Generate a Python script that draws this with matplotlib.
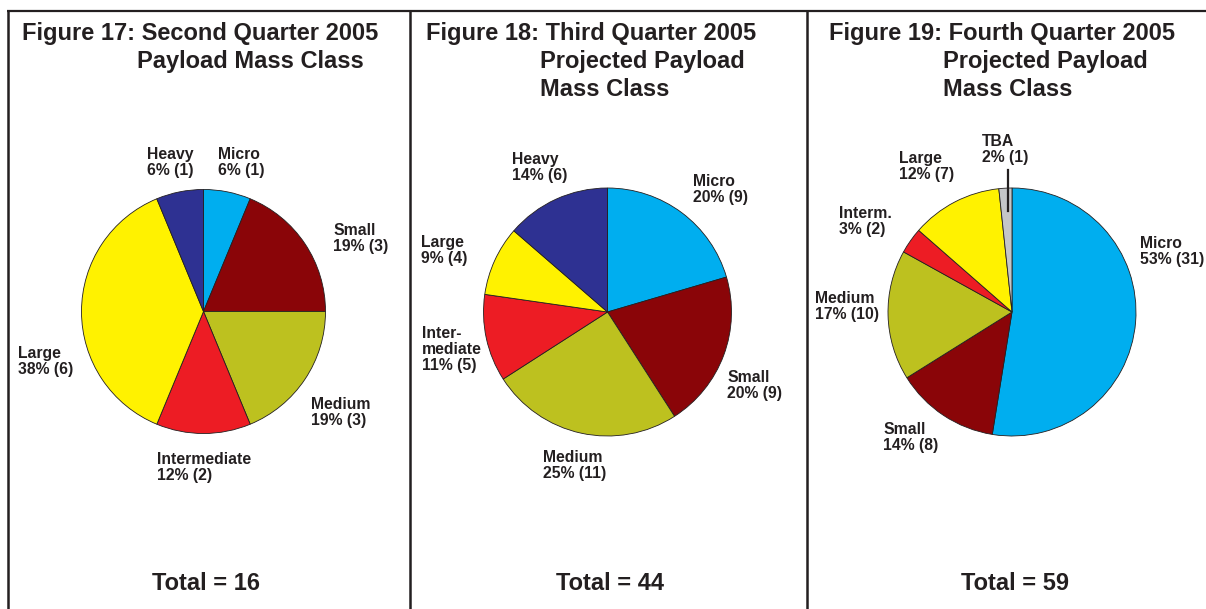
import matplotlib.pyplot as plt

plt.rcParams['font.family'] = ['Liberation Sans', 'DejaVu Sans']

W, H = 1206, 609

# data (clockwise from 12 o'clock)
classes_q2 = ['Micro', 'Small', 'Medium', 'Intermediate', 'Large', 'Heavy']
counts_q2 = [1, 3, 3, 2, 6, 1]

classes_q3 = ['Micro', 'Small', 'Medium', 'Inter-\nmediate', 'Large', 'Heavy']
counts_q3 = [9, 9, 11, 5, 4, 6]

classes_q4 = ['Micro', 'Small', 'Medium', 'Interm.', 'Large', 'TBA']
counts_q4 = [31, 8, 10, 2, 7, 1]

titles = [
    ['Figure 17: Second Quarter 2005', 'Payload Mass Class'],
    ['Figure 18: Third Quarter 2005', 'Projected Payload\nMass Class'],
    ['Figure 19: Fourth Quarter 2005', 'Projected Payload\nMass Class'],
]

colors = {
    'Micro': '#00aeef',
    'Small': '#8a0508',
    'Medium': '#bdc11f',
    'Inter': '#ed1c24',
    'Large': '#fff200',
    'Heavy': '#2e3192',
    'TBA': '#c4c6c8',
}

# layout (pixels): pie centre, radius, title x, label top-left corners
panels = [
    dict(names=classes_q2, counts=counts_q2, c=(203.5, 311.5), r=122,
         tx=(22, 137),
         lab=[(218, 148), (333, 224), (311, 398), (157, 453), (18, 347), (147, 148)]),
    dict(names=classes_q3, counts=counts_q3, c=(607.5, 312), r=124,
         tx=(426, 540),
         lab=[(693, 175), (727, 371), (543, 451), (422, 327), (421, 236), (512, 153)]),
    dict(names=classes_q4, counts=counts_q4, c=(1012, 312), r=124,
         tx=(829, 943),
         lab=[(1140, 237), (883, 423), (815, 292), (839, 207), (899, 152), (982, 135)]),
]

ink = '#231f20'

fig = plt.figure(figsize=(W / 100, H / 100), dpi=100)

for p in panels:
    cx, cy = p['c']
    r = p['r'] * 1.02
    ax = fig.add_axes([(cx - r) / W, 1 - (cy + r) / H, 2 * r / W, 2 * r / H])
    cols = [colors[n[:5]] if n[:5] == 'Inter' else colors[n] for n in p['names']]
    ax.pie(p['counts'], colors=cols, startangle=90, counterclock=False, radius=1,
           wedgeprops=dict(edgecolor=ink, linewidth=0.6))
    ax.set_xlim(-1.02, 1.02)
    ax.set_ylim(-1.02, 1.02)
    ax.axis('off')

ov = fig.add_axes([0, 0, 1, 1], facecolor='none', zorder=5)
ov.set_xlim(0, W)
ov.set_ylim(H, 0)
ov.axis('off')

# frame lines
ov.plot([7, W], [10.5, 10.5], color=ink, lw=1.6, solid_capstyle='butt')
for x in [7.5, 410, 807]:
    ov.plot([x, x], [10, H], color=ink, lw=1.8, solid_capstyle='butt')

for i, p in enumerate(panels):
    total = sum(p['counts'])
    t1, t2 = titles[i]
    ov.text(p['tx'][0], 40, t1, fontsize=17, fontweight='bold', color=ink,
            ha='left', va='baseline')
    ov.text(p['tx'][1], 50, t2, fontsize=17, fontweight='bold', color=ink,
            ha='left', va='top', linespacing=1.3)
    for name, cnt, (lx, ly) in zip(p['names'], p['counts'], p['lab']):
        pct = round(100 * cnt / total)
        ov.text(lx, ly - 1, f'{name}\n{pct}% ({cnt})', fontsize=11.3, fontweight='bold',
                color=ink, ha='left', va='top', linespacing=1.1)
    ov.text(p['c'][0] + 3, 583, f'Total = {total}', fontsize=17, fontweight='bold',
            color=ink, ha='center', va='center')

# TBA leader line
ov.plot([1008, 1008], [170, 211], color=ink, lw=1.6)

fig.savefig('out.png', dpi=100)
